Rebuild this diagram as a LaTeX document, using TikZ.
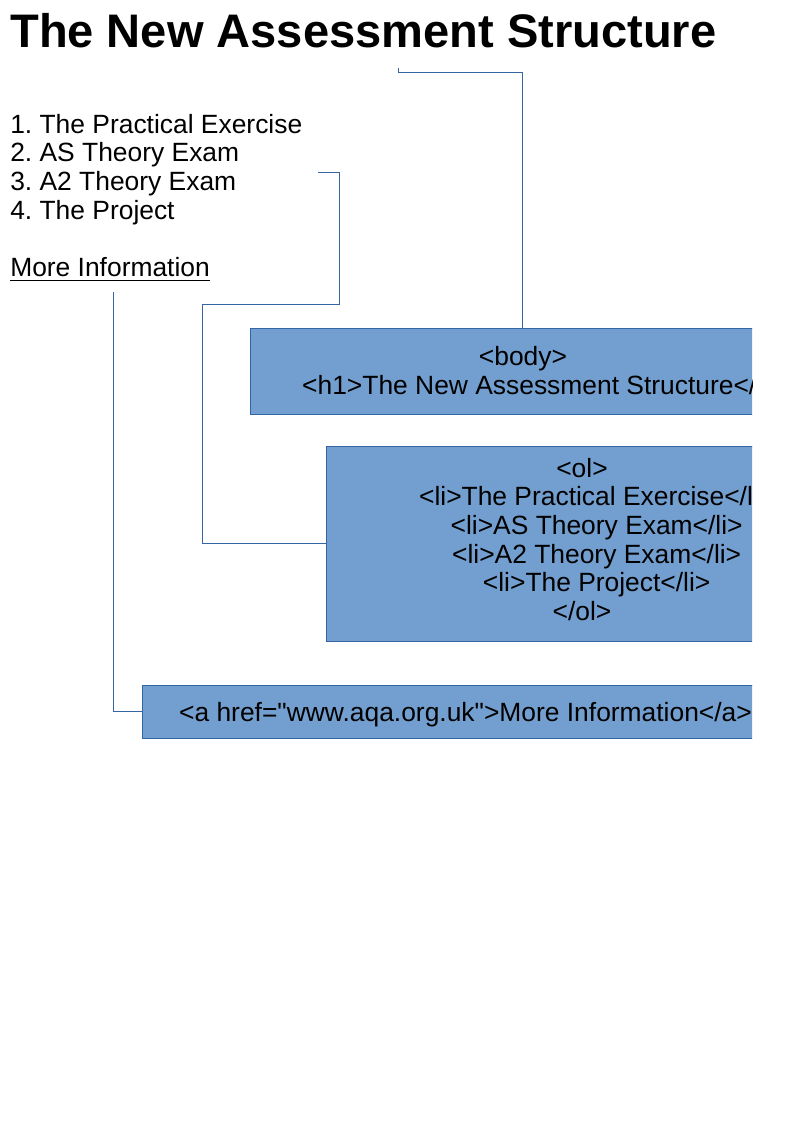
\documentclass[tikz,border=0pt]{standalone}
\usepackage{fontspec}
\setmainfont{Liberation Sans}
\newfontfamily\htmlfont{Liberation Sans}
\definecolor{boxfill}{HTML}{729FCF}
\definecolor{boxline}{HTML}{3465A4}
\newcommand{\ind}[1]{\hspace*{#1}}
\begin{document}
\frenchspacing
\begin{tikzpicture}[x=0.75pt,y=-0.75pt,
  titletext/.style={anchor=base west,inner sep=0,font=\fontsize{35.3}{40}\selectfont\bfseries},
  itemtext/.style={anchor=base west,inner sep=0,font=\fontsize{19.8}{21.5}\selectfont},
  htmlbox/.style={draw=boxline,fill=boxfill,line width=0.75pt,inner sep=0,rectangle},
  htmltext/.style={anchor=base,inner sep=0,align=center,font=\htmlfont\fontsize{19.8}{21.5}\selectfont},
  link/.style={draw=boxline,line width=0.75pt}]
\useasboundingbox (0,0) rectangle (794,1123);
% page text
\node[titletext] (title) at (10,47.5) {The New Assessment Structure};
\node[itemtext] (i1) at (10,133.5) {1. The Practical Exercise};
\node[itemtext] (i2) at (10,162) {2. AS Theory Exam};
\node[itemtext] (i3) at (10,190.5) {3. A2 Theory Exam};
\node[itemtext] (i4) at (10,219.5) {4. The Project};
\node[itemtext] (more) at (10,276) {More Information};
\draw[line width=1.1pt] ([yshift=-3.2pt]more.base west) -- ([yshift=-3.2pt]more.base east);
% boxes (clipped at the right margin)
\begin{scope}
\clip (0,0) rectangle (752,1123);
\node[htmlbox,minimum width=408pt,minimum height=64.5pt] (body) at (522.5,371) {};
\node[htmltext] (bodytxt) at (523,394) {<body>\\\ind{43pt}<h1>The New Assessment Structure</h1>};
\node[htmlbox,minimum width=384pt,minimum height=146.25pt] (ol) at (582,543.5) {};
\node[htmltext] (oltxt) at (582,620.5) {<ol>\\\ind{22pt}<li>The Practical Exercise</li>\\\ind{22pt}<li>AS Theory Exam</li>\\\ind{22pt}<li>A2 Theory Exam</li>\\\ind{22pt}<li>The Project</li>\\</ol>};
\node[htmlbox,minimum width=484.5pt,minimum height=39.75pt] (anchorbox) at (465,711.5) {};
\node[htmltext] (anchortxt) at (465.5,721) {<a href="www.aqa.org.uk">More Information</a>};
\end{scope}
% connectors
\coordinate (c1) at (398,68);
\coordinate (c2) at (318,173);
\coordinate (c3) at (113,292);
\draw[link] (c1) -- ++(0,5) -| (body.north);
\draw[link] (c2) -- (339,173) -- (339,304) -- (202,304) |- (ol.west);
\draw[link] (c3) |- (anchorbox.west);
\end{tikzpicture}
\end{document}
